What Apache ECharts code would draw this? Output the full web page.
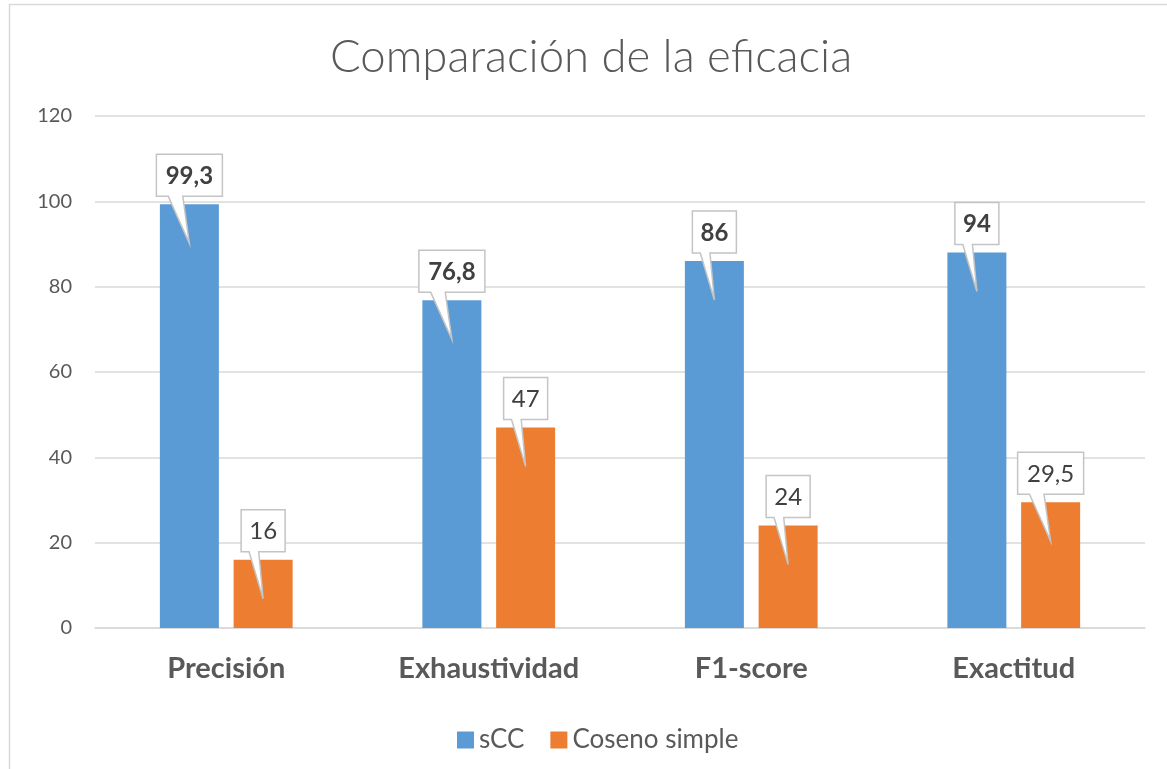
<!DOCTYPE html>
<html>
<head>
<meta charset="utf-8">
<script src="https://cdn.jsdelivr.net/npm/echarts@6/dist/echarts.min.js"></script>
<style>
html,body{margin:0;padding:0;background:#fff;}
#chart{width:1167px;height:769px;}
</style>
</head>
<body>
<div id="chart"></div>
<script>
const titleText = 'Comparación de la eficacia';
const categories = ['Precisión', 'Exhaustividad', 'F1-score', 'Exactitud'];
const seriesNames = ['sCC', 'Coseno simple'];
const sccValues = [99.3, 76.8, 86, 88];
const sccLabels = ['99,3', '76,8', '86', '94'];
const cosValues = [16, 47, 24, 29.5];
const cosLabels = ['16', '47', '24', '29,5'];
const yMin = 0, yMax = 120, yInterval = 20;

const FONT = 'Lato, "Open Sans", sans-serif';
const BAR_W = 59;
const BAR_GAP = 0.25;
const BLUE = '#5B9BD5';
const ORANGE = '#ED7D31';
const TEXT = '#595959';

function calloutRenderer(values, labels, sign, bold) {
  return function (params, api) {
    const idx = api.value(0);
    const val = api.value(1);
    const p = api.coord([idx, val]);
    const cx = p[0] + sign * (BAR_W + BAR_W * BAR_GAP) / 2;
    const top = p[1];
    const text = labels[params.dataIndex];
    const w = 22 + 11 * text.length;
    const h = 42;
    const bx0 = cx - w / 2, bx1 = cx + w / 2;
    const by1 = top - 8, by0 = by1 - h;
    return {
      type: 'group',
      children: [
        {
          type: 'polygon',
          shape: {
            points: [
              [bx0, by0], [bx1, by0], [bx1, by1],
              [cx - 0.1 * w, by1], [cx, top + 39], [cx - 0.32 * w, by1],
              [bx0, by1]
            ]
          },
          style: { fill: '#ffffff', stroke: '#c4c4c4', lineWidth: 1.5 }
        },
        {
          type: 'text',
          style: {
            x: cx, y: by0 + h / 2 + 1,
            text: text,
            align: 'center', verticalAlign: 'middle',
            fontFamily: FONT, fontSize: 24,
            fontWeight: bold ? 'bold' : 'normal',
            fill: '#404040'
          }
        }
      ]
    };
  };
}

const chart = echarts.init(document.getElementById('chart'));
chart.setOption({
  backgroundColor: '#ffffff',
  animation: false,
  title: {
    text: titleText,
    left: 330,
    top: 34,
    padding: 0,
    textStyle: { fontFamily: FONT, fontSize: 45.5, fontWeight: 300, color: TEXT }
  },
  graphic: [{
    type: 'rect',
    shape: { x: 9.5, y: 4.5, width: 1300, height: 900 },
    style: { fill: 'none', stroke: '#d9d9d9', lineWidth: 1.5 },
    silent: true
  }],
  legend: {
    data: seriesNames,
    left: 452,
    top: 722,
    icon: 'rect',
    itemWidth: 17,
    itemHeight: 17,
    itemGap: 26,
    textStyle: { fontFamily: FONT, fontSize: 26, color: TEXT }
  },
  grid: { left: 95, right: 22, top: 116, bottom: 141, containLabel: false },
  xAxis: {
    type: 'category',
    data: categories,
    axisTick: { show: false },
    axisLine: { lineStyle: { color: '#d9d9d9', width: 1.5 } },
    axisLabel: { fontFamily: FONT, fontSize: 29, fontWeight: 'bold', color: TEXT, margin: 26 }
  },
  yAxis: {
    type: 'value',
    min: yMin, max: yMax, interval: yInterval,
    axisLine: { show: false },
    axisTick: { show: false },
    splitLine: { lineStyle: { color: '#d9d9d9', width: 1.5 } },
    axisLabel: { fontFamily: FONT, fontSize: 20, color: TEXT, margin: 23 }
  },
  series: [
    {
      name: seriesNames[0], type: 'bar', data: sccValues,
      barWidth: BAR_W, barGap: (BAR_GAP * 100) + '%',
      itemStyle: { color: BLUE }
    },
    {
      name: seriesNames[1], type: 'bar', data: cosValues,
      barWidth: BAR_W, barGap: (BAR_GAP * 100) + '%',
      itemStyle: { color: ORANGE }
    },
    {
      type: 'custom', name: 'callouts-scc', z: 10,
      data: sccValues.map((v, i) => [i, v]),
      renderItem: calloutRenderer(sccValues, sccLabels, -1, true),
      silent: true
    },
    {
      type: 'custom', name: 'callouts-cos', z: 10,
      data: cosValues.map((v, i) => [i, v]),
      renderItem: calloutRenderer(cosValues, cosLabels, 1, false),
      silent: true
    }
  ]
});
</script>
</body>
</html>
